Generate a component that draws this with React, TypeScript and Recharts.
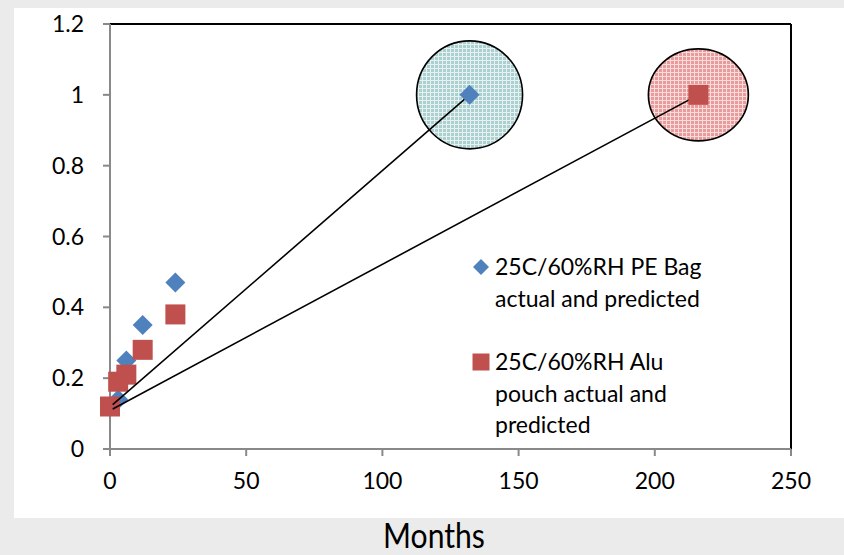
import React from 'react';
import { ScatterChart, Scatter, XAxis, YAxis, ReferenceLine, Legend } from 'recharts';

const xTicks = [0, 50, 100, 150, 200, 250];
const yTicks = [0, 0.2, 0.4, 0.6, 0.8, 1, 1.2];

// measured points, months vs value
const peActual = [
  { x: 0, y: 0.12 },
  { x: 3, y: 0.14 },
  { x: 6, y: 0.25 },
  { x: 12, y: 0.35 },
  { x: 24, y: 0.47 },
];
const pePredicted = [{ x: 132, y: 1 }];
const aluActual = [
  { x: 0, y: 0.12 },
  { x: 3, y: 0.19 },
  { x: 6, y: 0.21 },
  { x: 12, y: 0.28 },
  { x: 24, y: 0.38 },
];
const aluPredicted = [{ x: 216, y: 1 }];

// extrapolation lines
const peFitLine = [{ x: 1, y: 0.125 }, { x: 132, y: 1 }];
const aluFitLine = [{ x: 1, y: 0.113 }, { x: 216, y: 1 }];

const peLegend = ['25C/60%RH PE Bag', 'actual and predicted'];
const aluLegend = ['25C/60%RH Alu', 'pouch actual and', 'predicted'];

const BLUE = '#4f81bd';
const RED = '#c0504d';
const AXIS = '#898989';
const FONT = 'Lato, "Open Sans", sans-serif';

const Diamond = (props: any) => {
  const { cx, cy } = props;
  return <polygon points={`${cx},${cy - 10} ${cx + 10},${cy} ${cx},${cy + 10} ${cx - 10},${cy}`} fill={BLUE} />;
};

const Square = (props: any) => {
  const { cx, cy } = props;
  return <rect x={cx - 10} y={cy - 10} width={20} height={20} fill={RED} />;
};

const Hidden = () => <g />;

const TealRing = (props: any) => (
  <ellipse cx={props.cx} cy={props.cy} rx={53} ry={54} fill="url(#tealGrid)" stroke="#000" strokeWidth={1.6} />
);

const RedRing = (props: any) => (
  <ellipse cx={props.cx} cy={props.cy} rx={50} ry={46} fill="url(#redGrid)" stroke="#000" strokeWidth={1.6} />
);

const LegendBox = () => {
  const lineStyle = { height: 31.5, lineHeight: '31.5px', whiteSpace: 'nowrap' as const };
  return (
    <div style={{ fontFamily: FONT, fontSize: 23, color: '#000', position: 'relative' }}>
      <div style={{ position: 'relative', paddingLeft: 37 }}>
        <svg width={18} height={18} style={{ position: 'absolute', left: 14, top: 7 }}>
          <polygon points="9,1 17,9 9,17 1,9" fill={BLUE} />
        </svg>
        {peLegend.map((t) => <div key={t} style={lineStyle}>{t}</div>)}
      </div>
      <div style={{ position: 'relative', paddingLeft: 37, marginTop: 32 }}>
        <svg width={18} height={18} style={{ position: 'absolute', left: 14, top: 7 }}>
          <rect x={0.5} y={0.5} width={17} height={17} fill={RED} />
        </svg>
        {aluLegend.map((t) => <div key={t} style={lineStyle}>{t}</div>)}
      </div>
    </div>
  );
};

export default function App() {
  const tick = { fill: '#000', fontSize: 23, fontFamily: FONT };
  return (
    <div style={{ position: 'absolute', left: 0, top: 0, width: 844, height: 555, background: '#ebebeb' }}>
      <div style={{ position: 'absolute', left: 14, top: 8, width: 830, height: 510, background: '#fff' }}>
        <ScatterChart width={830} height={510} margin={{ top: 16, right: 53, bottom: 0, left: 0 }}>
          <defs>
            <pattern id="tealGrid" width={4} height={4} patternUnits="userSpaceOnUse">
              <rect width={4} height={4} fill="#acd0d0" />
              <path d="M0 0.5H4M0.5 0V4" stroke="#e6f2f2" strokeWidth={1} />
            </pattern>
            <pattern id="redGrid" width={4} height={4} patternUnits="userSpaceOnUse">
              <rect width={4} height={4} fill="#e99a9a" />
              <path d="M0 0.5H4M0.5 0V4" stroke="#f9dcdc" strokeWidth={1} />
            </pattern>
          </defs>
          <XAxis
            type="number"
            dataKey="x"
            domain={[0, 250]}
            ticks={xTicks}
            height={69}
            tick={tick}
            tickSize={7}
            tickMargin={17}
            axisLine={{ stroke: AXIS, strokeWidth: 2 }}
            tickLine={{ stroke: AXIS, strokeWidth: 2 }}
          />
          <YAxis
            type="number"
            dataKey="y"
            domain={[0, 1.2]}
            ticks={yTicks}
            width={96}
            tick={tick}
            tickSize={7}
            tickMargin={19}
            axisLine={{ stroke: AXIS, strokeWidth: 2 }}
            tickLine={{ stroke: AXIS, strokeWidth: 2 }}
          />
          <ReferenceLine y={1.2} stroke="#000" strokeWidth={2} />
          <ReferenceLine x={250} stroke="#000" strokeWidth={2} />
          <Legend
            layout="vertical"
            align="center"
            verticalAlign="middle"
            wrapperStyle={{ left: 444, top: 243, width: 320 }}
            content={() => <LegendBox />}
          />
          <Scatter data={pePredicted} shape={<TealRing />} legendType="none" isAnimationActive={false} />
          <Scatter data={aluPredicted} shape={<RedRing />} legendType="none" isAnimationActive={false} />
          <Scatter name="25C/60%RH PE Bag actual and predicted" data={peActual} shape={<Diamond />} isAnimationActive={false} />
          <Scatter name="25C/60%RH Alu pouch actual and predicted" data={aluActual} shape={<Square />} isAnimationActive={false} />
          <Scatter data={peFitLine} line={{ stroke: '#000', strokeWidth: 1.6 }} shape={<Hidden />} legendType="none" isAnimationActive={false} />
          <Scatter data={aluFitLine} line={{ stroke: '#000', strokeWidth: 1.6 }} shape={<Hidden />} legendType="none" isAnimationActive={false} />
          <Scatter data={pePredicted} shape={<Diamond />} legendType="none" isAnimationActive={false} />
          <Scatter data={aluPredicted} shape={<Square />} legendType="none" isAnimationActive={false} />
        </ScatterChart>
      </div>
      <div
        style={{
          position: 'absolute',
          left: 334,
          width: 200,
          top: 514,
          textAlign: 'center',
          fontFamily: FONT,
          fontSize: 35,
          lineHeight: '40px',
          color: '#000',
          transform: 'scaleX(0.86)',
        }}
      >
        Months
      </div>
    </div>
  );
}
